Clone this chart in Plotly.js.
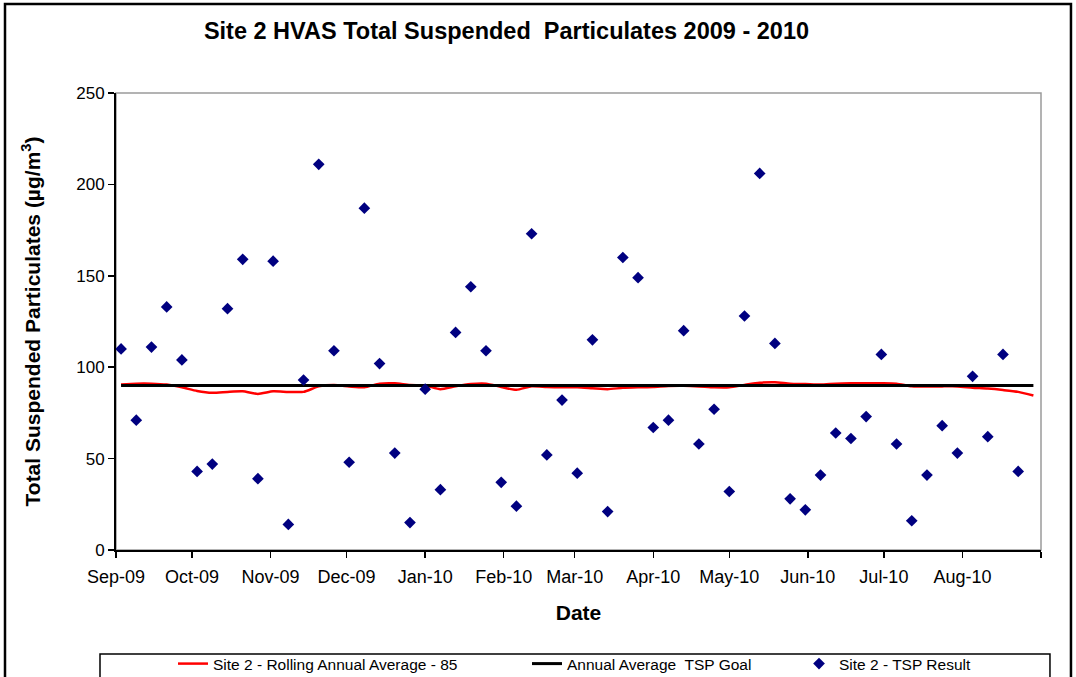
<!DOCTYPE html>
<html>
<head>
<meta charset="utf-8">
<script src="https://cdn.plot.ly/plotly-3.0.1.min.js"></script>
<style>
  html, body { margin: 0; padding: 0; background: #fff; }
  #chart { width: 1076px; height: 677px; }
</style>
</head>
<body>
<div id="chart"></div>
<script>
// Sampling dates (every sixth day)
const sampleDates = [
  "2009-09-03","2009-09-09","2009-09-15","2009-09-21","2009-09-27",
  "2009-10-03","2009-10-09","2009-10-15","2009-10-21","2009-10-27",
  "2009-11-02","2009-11-08","2009-11-14","2009-11-20","2009-11-26",
  "2009-12-02","2009-12-08","2009-12-14","2009-12-20","2009-12-26",
  "2010-01-01","2010-01-07","2010-01-13","2010-01-19","2010-01-25","2010-01-31",
  "2010-02-06","2010-02-12","2010-02-18","2010-02-24",
  "2010-03-02","2010-03-08","2010-03-14","2010-03-20","2010-03-26",
  "2010-04-01","2010-04-07","2010-04-13","2010-04-19","2010-04-25",
  "2010-05-01","2010-05-07","2010-05-13","2010-05-19","2010-05-25","2010-05-31",
  "2010-06-06","2010-06-12","2010-06-18","2010-06-24","2010-06-30",
  "2010-07-06","2010-07-12","2010-07-18","2010-07-24","2010-07-30",
  "2010-08-05","2010-08-11","2010-08-17","2010-08-23"
];
// Site 2 - TSP Result (µg/m³)
const tspResult = [
  110, 71, 111, 133, 104, 43, 47, 132, 159, 39,
  158, 14, 93, 211, 109, 48, 187, 102, 53, 15,
  88, 33, 119, 144, 109, 37, 24, 173, 52, 82,
  42, 115, 21, 160, 149, 67, 71, 120, 58, 77,
  32, 128, 206, 113, 28, 22, 41, 64, 61, 73,
  107, 58, 16, 41, 68, 53, 95, 62, 107, 43
];
// Rolling annual average dates / values
const rollingDates = sampleDates.concat(["2010-08-29"]);
const rollingAvg = [
  90.5, 91, 91, 90.5, 89, 87, 86, 86.5, 86.8, 85.4,
  86.8, 86.5, 86.5, 89.5, 90.2, 89.5, 89, 91, 91.2, 90.2,
  90, 88, 89.6, 90.8, 91, 89.2, 87.6, 89.6, 89.2, 89,
  89, 88.5, 88, 88.7, 89, 89.2, 89.7, 89.8, 89.5, 89,
  89, 90.3, 91.5, 91.8, 91, 90.8, 90.5, 91, 91.2, 91.2,
  91.2, 91, 89.6, 89.4, 89.5, 89.5, 88.8, 88.3, 87.5, 86.5,
  84.5
];
// Annual average TSP goal
const goalDates = ["2009-09-03", "2010-08-29"];
const goalValues = [90, 90];

const seriesNames = [
  "Site 2 - Rolling Annual Average - 85",
  "Annual Average  TSP Goal",
  "Site 2 - TSP Result"
];

// x axis tick labels (monthly)
const xTickVals = [
  "2009-09-01","2009-10-01","2009-11-01","2009-12-01","2010-01-01","2010-02-01",
  "2010-03-01","2010-04-01","2010-05-01","2010-06-01","2010-07-01","2010-08-01"
];
const xTickText = [
  "Sep-09","Oct-09","Nov-09","Dec-09","Jan-10","Feb-10",
  "Mar-10","Apr-10","May-10","Jun-10","Jul-10","Aug-10"
];

const baseFont = "Liberation Sans, Arial, sans-serif";
const legendFont = { family: baseFont, size: 15.5, color: "#000000" };

const traces = [
  {
    x: rollingDates, y: rollingAvg, type: "scatter", mode: "lines",
    name: seriesNames[0], legend: "legend",
    line: { color: "#ff0000", width: 2.5, shape: "spline", smoothing: 0.6 }
  },
  {
    x: goalDates, y: goalValues, type: "scatter", mode: "lines",
    name: seriesNames[1], legend: "legend2",
    line: { color: "#000000", width: 3 }
  },
  {
    x: sampleDates, y: tspResult, type: "scatter", mode: "markers",
    name: seriesNames[2], legend: "legend3",
    marker: { symbol: "diamond", color: "#000080", size: 9 }
  }
];

function legendAt(x) {
  return {
    orientation: "h", x: x, xanchor: "left", y: -0.2123, yanchor: "top",
    bgcolor: "rgba(0,0,0,0)", borderwidth: 0, font: legendFont
  };
}

const layout = {
  width: 1076, height: 677,
  margin: { l: 116, r: 35, t: 93, b: 127, autoexpand: false },
  paper_bgcolor: "#ffffff",
  plot_bgcolor: "#ffffff",
  font: { family: baseFont, color: "#000000", size: 15 },
  showlegend: true,
  title: {
    text: "<b>Site 2 HVAS Total Suspended  Particulates 2009 - 2010</b>",
    font: { family: baseFont, size: 23.5, color: "#000000" },
    x: 0.4707, xref: "container", xanchor: "center",
    y: 0.955, yref: "container", yanchor: "middle"
  },
  xaxis: {
    type: "date",
    range: ["2009-09-01", "2010-09-01"],
    tickmode: "array", tickvals: xTickVals, ticktext: xTickText,
    ticks: "outside", ticklen: 6, tickcolor: "#000000", tickwidth: 1.5,
    ticklabelstandoff: 3,
    minor: { ticks: "outside", ticklen: 6, tickcolor: "#000000", tickwidth: 1.5,
             dtick: "M1", tick0: "2009-09-01", showgrid: false },
    showline: true, linecolor: "#000000", linewidth: 2,
    showgrid: false, zeroline: false,
    tickfont: { family: baseFont, size: 18, color: "#000000" },
    title: { text: "<b>Date</b>", font: { family: baseFont, size: 21, color: "#000000" }, standoff: 20 }
  },
  yaxis: {
    range: [0, 250], dtick: 50, tick0: 0,
    ticks: "outside", ticklen: 6, tickcolor: "#000000", tickwidth: 1.5,
    showline: true, linecolor: "#000000", linewidth: 2,
    showgrid: false, zeroline: false,
    tickfont: { family: baseFont, size: 17, color: "#000000" },
    title: { text: "<b>Total Suspended Particulates (µg/m<sup>3</sup>)</b>", font: { family: baseFont, size: 21, color: "#000000" }, standoff: 30 }
  },
  legend: legendAt(0.0616),
  legend2: legendAt(0.4443),
  legend3: legendAt(0.7384),
  shapes: [
    // plot area frame (grey top/right)
    { type: "rect", xref: "paper", yref: "paper", x0: 0, x1: 1, y0: 0, y1: 1,
      line: { color: "#9a9a9a", width: 1.5 }, layer: "below" },
    // legend box
    { type: "rect", xref: "paper", yref: "paper", x0: -0.0173, x1: 1.0097, y0: -0.32, y1: -0.2276,
      line: { color: "#000000", width: 1.5 } },
    // outer chart frame
    { type: "rect", xref: "paper", yref: "paper", x0: -0.12, x1: 1.0324, y0: -0.34, y1: 1.195,
      line: { color: "#000000", width: 2.5 } }
  ]
};

Plotly.newPlot("chart", traces, layout, { displayModeBar: false, staticPlot: true });
</script>
</body>
</html>
